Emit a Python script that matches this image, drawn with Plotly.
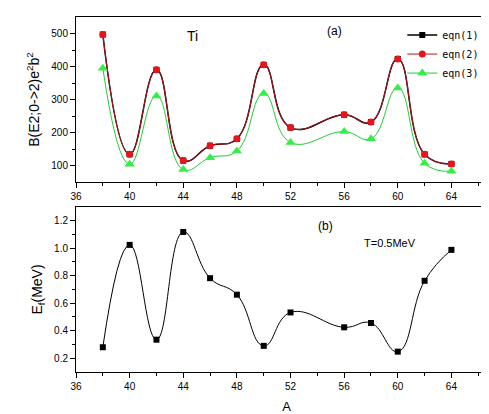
import plotly.graph_objects as go

A = [38, 40, 42, 44, 46, 48, 50, 52, 56, 58, 60, 62, 64]
eqn1 = [497, 134, 390, 115, 160, 181, 405, 215, 254, 232, 423, 134, 105]
eqn2 = [497, 134, 390, 115, 160, 181, 405, 215, 254, 232, 423, 134, 105]
eqn3 = [395, 104, 311, 88, 124, 144, 318, 170, 203, 181, 335, 107, 83]
Ef = [0.28, 1.024, 0.335, 1.118, 0.782, 0.662, 0.29, 0.533, 0.425, 0.456, 0.248, 0.763, 0.988]

x_ticks = [36, 40, 44, 48, 52, 56, 60, 64]

fig = go.Figure()
fig.add_trace(go.Scatter(x=A, y=eqn1, name="eqn(1)", mode="lines+markers",
                         line=dict(color="black", width=1.5, shape="spline", smoothing=1.3),
                         marker=dict(symbol="square", size=6, color="black"),
                         xaxis="x", yaxis="y"))
fig.add_trace(go.Scatter(x=A, y=eqn2, name="eqn(2)", mode="lines+markers",
                         line=dict(color="#b8141c", width=1, shape="spline", smoothing=1.3),
                         marker=dict(symbol="circle", size=7, color="#e8141c"),
                         xaxis="x", yaxis="y"))
fig.add_trace(go.Scatter(x=A, y=eqn3, name="eqn(3)", mode="lines+markers",
                         line=dict(color="#22cc33", width=1, shape="spline", smoothing=1.3),
                         marker=dict(symbol="triangle-up", size=9, color="#33ee44"),
                         xaxis="x", yaxis="y"))
fig.add_trace(go.Scatter(x=A, y=Ef, name="Ef", mode="lines+markers", showlegend=False,
                         line=dict(color="black", width=1, shape="spline", smoothing=1.3),
                         marker=dict(symbol="square", size=6, color="black"),
                         xaxis="x2", yaxis="y2"))

tickfont = dict(family="Liberation Sans, Arial", size=10, color="black")
axis_common = dict(showline=True, linecolor="black", linewidth=1, ticks="outside",
                   ticklen=5, tickcolor="black", showgrid=False, zeroline=False,
                   tickfont=tickfont)

top_dom = [0.535, 1.0]
bot_dom = [0.0, 0.465]
minor_x = [38, 42, 46, 50, 54, 58, 62, 66]

fig.update_layout(
    width=489, height=414,
    margin=dict(l=68, r=0, t=9, b=50),
    paper_bgcolor="white", plot_bgcolor="white",
    font=dict(family="Liberation Sans, Arial", color="black"),
    xaxis=dict(domain=[0, 1], anchor="y", range=[36, 67.4], tickvals=x_ticks,
               minor=dict(ticks="outside", ticklen=3, tickvals=minor_x, tickcolor="black"),
               mirror=True, **axis_common),
    yaxis=dict(domain=top_dom, anchor="x", range=[50, 550], tickvals=[100, 200, 300, 400, 500],
               minor=dict(ticks="outside", ticklen=3, tickvals=[150, 250, 350, 450], tickcolor="black"),
               title=dict(text="B(E2;0->2)e<sup>2</sup>b<sup>2</sup>", font=dict(size=14), standoff=8),
               **axis_common),
    xaxis2=dict(domain=[0, 1], anchor="y2", range=[36, 67.4], tickvals=x_ticks,
                minor=dict(ticks="outside", ticklen=3, tickvals=minor_x, tickcolor="black"),
                mirror=True,
                title=dict(text="A", font=dict(size=13), standoff=10),
                **axis_common),
    yaxis2=dict(domain=bot_dom, anchor="x2", range=[0.1, 1.3], tickvals=[0.2, 0.4, 0.6, 0.8, 1.0, 1.2],
                tickformat=".1f",
                minor=dict(ticks="outside", ticklen=3, tickvals=[0.3, 0.5, 0.7, 0.9, 1.1], tickcolor="black"),
                title=dict(text="E<sub>f</sub>(MeV)", font=dict(size=14), standoff=8),
                **axis_common),
    legend=dict(x=0.775, y=0.99, xanchor="left", yanchor="top", bgcolor="rgba(0,0,0,0)",
                font=dict(family="DejaVu Sans Mono, monospace", size=10, color="black"),
                itemwidth=30, tracegroupgap=0),
    annotations=[
        dict(text="Ti", x=44.7, y=491, xref="x", yref="y", showarrow=False,
             font=dict(size=14, color="black")),
        dict(text="(a)", x=55.3, y=509, xref="x", yref="y", showarrow=False,
             font=dict(size=12, color="black")),
        dict(text="(b)", x=54.6, y=1.164, xref="x2", yref="y2", showarrow=False,
             font=dict(size=12, color="black")),
        dict(text="T=0.5MeV", x=59.4, y=1.04, xref="x2", yref="y2", showarrow=False,
             font=dict(size=11, color="black")),
    ],
)

fig.write_html("out.html")
